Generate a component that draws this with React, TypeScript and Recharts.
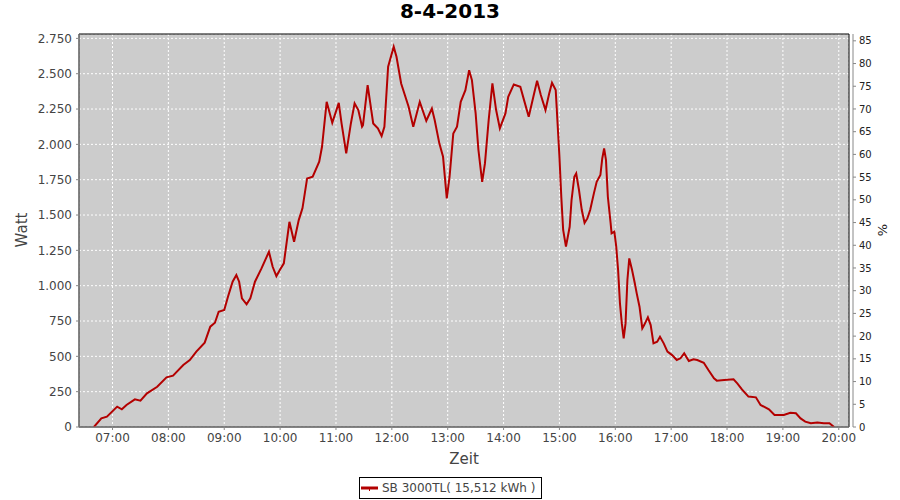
import { LineChart, Line, XAxis, YAxis, CartesianGrid, ReferenceArea } from "recharts";

// sample times (HH:MM) and power readings in W
const times = [
  "06:40", "06:48", "06:54", "07:05", "07:10", "07:15", "07:24", "07:30", "07:37", "07:48",
  "07:58", "08:05", "08:16", "08:23", "08:30", "08:39", "08:45", "08:50", "08:54", "09:00",
  "09:04", "09:09", "09:13", "09:16", "09:19", "09:24", "09:28", "09:33", "09:40", "09:48",
  "09:52", "09:56", "10:00", "10:04", "10:10", "10:15", "10:20", "10:24", "10:29", "10:35",
  "10:42", "10:45", "10:50", "10:56", "11:03", "11:06", "11:11", "11:16", "11:20", "11:24",
  "11:28", "11:29", "11:34", "11:40", "11:45", "11:49", "11:52", "11:56", "12:02", "12:05",
  "12:10", "12:18", "12:23", "12:30", "12:37", "12:43", "12:46", "12:51", "12:55", "12:59",
  "13:02", "13:06", "13:10", "13:14", "13:19", "13:23", "13:26", "13:30", "13:33", "13:37",
  "13:40", "13:44", "13:48", "13:52", "13:56", "14:02", "14:05", "14:11", "14:18", "14:22",
  "14:27", "14:32", "14:36", "14:40", "14:45", "14:49", "14:52", "14:56", "14:58", "15:00",
  "15:02", "15:04", "15:07", "15:11", "15:13", "15:16", "15:18", "15:21", "15:24", "15:27",
  "15:30", "15:33", "15:37", "15:40", "15:44", "15:46", "15:48", "15:50", "15:52", "15:55",
  "15:56", "15:59", "16:01", "16:03", "16:05", "16:07", "16:09", "16:11", "16:13", "16:15",
  "16:18", "16:21", "16:23", "16:26", "16:29", "16:31", "16:35", "16:38", "16:41", "16:45",
  "16:48", "16:52", "16:56", "17:01", "17:06", "17:10", "17:14", "17:19", "17:24", "17:28",
  "17:35", "17:40", "17:46", "17:49", "17:57", "18:07", "18:11", "18:16", "18:23", "18:31",
  "18:36", "18:45", "18:51", "19:01", "19:08", "19:14", "19:19", "19:24", "19:30", "19:37",
  "19:44", "19:50", "19:55",
];
const watts = [
  0, 61, 73, 144, 125, 156, 196, 186, 238, 285,
  351, 363, 439, 474, 533, 597, 710, 738, 816, 828,
  922, 1028, 1075, 1028, 910, 868, 910, 1028, 1122, 1240,
  1134, 1068, 1115, 1158, 1452, 1311, 1464, 1547, 1759, 1771,
  1877, 1983, 2301, 2153, 2294, 2148, 1936, 2148, 2290, 2243,
  2125, 2136, 2419, 2148, 2113, 2059, 2125, 2549, 2691, 2620,
  2431, 2266, 2125, 2301, 2167, 2254, 2172, 2007, 1912, 1618,
  1771, 2077, 2125, 2301, 2384, 2525, 2455, 2219, 1960, 1735,
  1865, 2172, 2431, 2243, 2113, 2219, 2337, 2424, 2408, 2313,
  2195, 2337, 2450, 2349, 2243, 2360, 2436, 2384, 2148, 1912,
  1629, 1394, 1276, 1417, 1606, 1771, 1794, 1677, 1535, 1445,
  1476, 1535, 1653, 1735, 1783, 1900, 1971, 1888, 1629, 1441,
  1370, 1382, 1276, 1111, 875, 733, 627, 733, 1040, 1193,
  1111, 1016, 946, 851, 698, 721, 776, 721, 592, 604,
  639, 592, 533, 509, 474, 486, 521, 467, 479, 474,
  455, 403, 344, 328, 332, 337, 309, 266, 215, 210,
  156, 125, 85, 85, 101, 97, 61, 38, 26, 31,
  26, 26, 0,
];
const hourLabels = [
  "07:00", "08:00", "09:00", "10:00", "11:00", "12:00", "13:00",
  "14:00", "15:00", "16:00", "17:00", "18:00", "19:00", "20:00",
];
const wattTicks = [0, 250, 500, 750, 1000, 1250, 1500, 1750, 2000, 2250, 2500, 2750];
const pctTicks = [0, 5, 10, 15, 20, 25, 30, 35, 40, 45, 50, 55, 60, 65, 70, 75, 80, 85];

const toMinutes = (s: string) => {
  const [h, m] = s.split(":").map(Number);
  return h * 60 + m;
};
const data = times.map((t, i) => ({ t: toMinutes(t), w: watts[i] }));
const hourTicks = hourLabels.map(toMinutes);

const T_MIN = 384;
const T_MAX = 1211;
const W_MAX = 2781;
const PCT_MAX = 86.5;

const FONT = "'DejaVu Sans', sans-serif";
const RED = "#B30000";
const AXIS_GRAY = "#888888";

const fmtWatt = (v: number) => String(v).replace(/\B(?=(\d{3})+(?!\d))/g, ".");
const fmtTime = (v: number) =>
  `${String(Math.floor(v / 60)).padStart(2, "0")}:${String(v % 60).padStart(2, "0")}`;

const tickStyle = { fill: "#444", fontSize: 12, fontFamily: FONT };

export default function App() {
  return (
    <div style={{ position: "absolute", left: 0, top: 0, width: 900, height: 500, background: "#fff", fontFamily: FONT }}>
      <div
        style={{
          position: "absolute", left: 0, top: 1, width: 900, textAlign: "center",
          fontSize: 20, lineHeight: "20px", fontWeight: "bold", color: "#000",
        }}
      >
        8-4-2013
      </div>

      <LineChart width={900} height={500} data={data} margin={{ top: 34, right: 0, bottom: 0, left: 0 }}>
        <CartesianGrid fill="#CCCCCC" fillOpacity={1} stroke="#FFFFFF" strokeDasharray="2 2" />

        {/* thin empty axes keep the real axes a few px off the plot, like JFreeChart */}
        <XAxis xAxisId="gap" type="number" domain={[0, 1]} height={4} tick={false} tickLine={false} axisLine={false} />
        <XAxis
          dataKey="t"
          type="number"
          domain={[T_MIN, T_MAX]}
          ticks={hourTicks}
          tickFormatter={fmtTime}
          height={69}
          tickSize={3}
          tickMargin={3}
          axisLine={{ stroke: AXIS_GRAY }}
          tickLine={{ stroke: AXIS_GRAY }}
          tick={tickStyle}
          allowDataOverflow
        />
        <YAxis yAxisId="gapL" type="number" domain={[0, 1]} width={4} tick={false} tickLine={false} axisLine={false} />
        <YAxis
          type="number"
          domain={[0, W_MAX]}
          ticks={wattTicks}
          tickFormatter={fmtWatt}
          width={75}
          tickSize={3}
          tickMargin={4}
          axisLine={{ stroke: AXIS_GRAY }}
          tickLine={{ stroke: AXIS_GRAY }}
          tick={tickStyle}
          allowDataOverflow
        />
        <YAxis yAxisId="gapR" orientation="right" type="number" domain={[0, 1]} width={4} tick={false} tickLine={false} axisLine={false} />
        <YAxis
          yAxisId="pct"
          orientation="right"
          type="number"
          domain={[0, PCT_MAX]}
          ticks={pctTicks}
          width={47}
          tickSize={3}
          tickMargin={3}
          axisLine={{ stroke: AXIS_GRAY }}
          tickLine={{ stroke: AXIS_GRAY }}
          tick={{ fill: "#222", fontSize: 10, fontFamily: FONT }}
          allowDataOverflow
        />

        <ReferenceArea x1={T_MIN} x2={T_MAX} y1={0} y2={W_MAX} fill="none" stroke="#000" strokeWidth={1} />

        <Line yAxisId="pct" dataKey="w" stroke="none" dot={false} activeDot={false} isAnimationActive={false} />
        <Line dataKey="w" type="linear" stroke={RED} strokeWidth={2} dot={false} isAnimationActive={false} />
      </LineChart>

      <div
        style={{
          position: "absolute", left: 22, top: 230, transform: "translate(-50%, -50%) rotate(-90deg)",
          fontSize: 15, color: "#444", whiteSpace: "nowrap",
        }}
      >
        Watt
      </div>
      <div
        style={{
          position: "absolute", left: 882, top: 230, transform: "translate(-50%, -50%) rotate(-90deg)",
          fontSize: 13, color: "#222", whiteSpace: "nowrap",
        }}
      >
        %
      </div>
      <div
        style={{
          position: "absolute", left: 464, top: 459, transform: "translate(-50%, -50%)",
          fontSize: 15, color: "#444", whiteSpace: "nowrap",
        }}
      >
        Zeit
      </div>

      <div
        style={{
          position: "absolute", left: 359, top: 477, width: 183, height: 22, boxSizing: "border-box",
          border: "1px solid #000", background: "#fff", display: "flex", alignItems: "center",
          fontSize: 12, color: "#444", whiteSpace: "nowrap",
        }}
      >
        <svg width={22} height={10} style={{ marginLeft: 0 }}>
          <line x1={1} y1={5} x2={18} y2={5} stroke={RED} strokeWidth={3} />
          <line x1={9.5} y1={5} x2={9.5} y2={8} stroke={RED} strokeWidth={1} />
        </svg>
        <span>SB 3000TL( 15,512 kWh )</span>
      </div>
    </div>
  );
}
